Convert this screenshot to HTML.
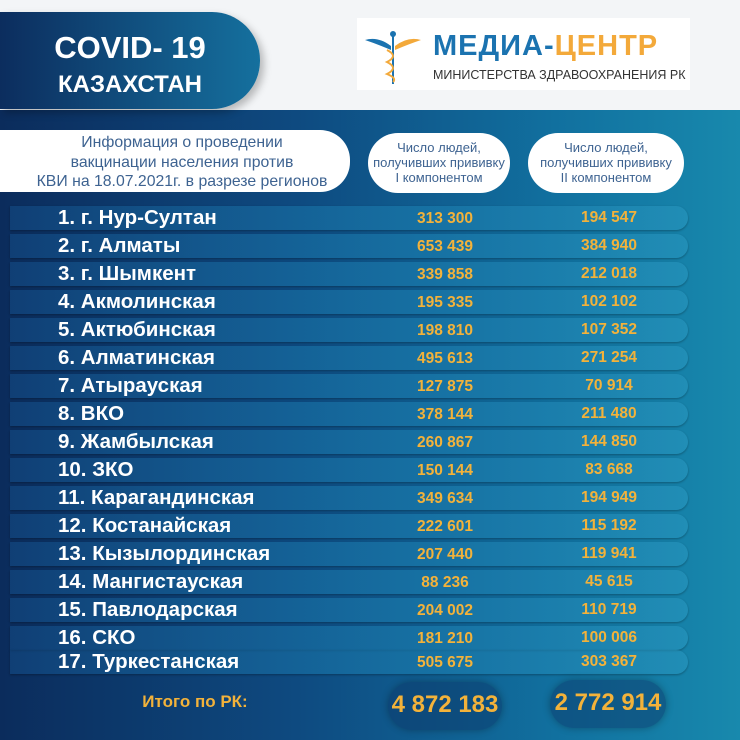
<!DOCTYPE html>
<html><head><meta charset="utf-8"><style>
*{margin:0;padding:0;box-sizing:border-box}
body{width:740px;height:740px;overflow:hidden;position:relative;font-family:"Liberation Sans",sans-serif;background:#f3f5f7}
.bg{position:absolute;left:0;top:110px;width:740px;height:630px;background:linear-gradient(90deg,#0b2c5c 0%,#0e4a80 40%,#11709f 75%,#1889ad 100%)}
.hdr{position:absolute;left:0;top:12px;width:260px;height:97px;border-radius:0 48px 48px 0;background:linear-gradient(90deg,#0c2d5e,#15709e);box-shadow:4px 4px 8px rgba(0,0,0,.25);color:#fff;text-align:center;font-weight:bold}
.hdr .a{position:absolute;left:0;width:260px;top:20px;font-size:31px;line-height:32px}
.hdr .b{position:absolute;left:0;width:260px;top:60px;font-size:24px;line-height:26px}
.logo{position:absolute;left:357px;top:18px;width:333px;height:72px;background:#fff}
.logo .m{position:absolute;left:76px;top:12px;font-weight:900;font-size:29px;letter-spacing:1px;color:#1b73b0}
.logo .m span{color:#f3a93a}
.logo .s{position:absolute;left:76px;top:50px;font-size:12.5px;color:#333}
.info{position:absolute;left:0;top:130px;width:350px;height:62px;background:#fff;border-radius:0 30px 30px 0;color:#3e6391;font-size:15.8px;text-align:center;line-height:19.5px;padding-top:3px;padding-left:14px}
.pill{position:absolute;top:133px;height:60px;background:#fff;border-radius:30px;color:#3e6391;font-size:13px;text-align:center;line-height:15px;padding-top:7px}
.row{position:absolute;left:10px;width:678px;height:24px;border-radius:0 14px 14px 0;background:linear-gradient(90deg,rgba(20,80,140,.5),rgba(25,120,170,.7) 60%,rgba(40,150,190,.6));box-shadow:0 1px 2px rgba(0,0,0,.3)}
.lab{position:absolute;left:58px;color:#fff;font-weight:bold;font-size:20.5px;line-height:24px}
.n{position:absolute;width:120px;text-align:center;color:#f3b23a;font-weight:bold;font-size:15.5px;line-height:24px}
.tot{position:absolute;top:682px;height:48px;border-radius:24px;background:rgba(10,50,100,.45);box-shadow:0 0 8px rgba(0,0,0,.3);color:#f3b23a;font-weight:bold;font-size:24px;text-align:center;line-height:46px}
</style></head><body>
<div class="bg"></div>
<div class="hdr"><div class="a">COVID- 19</div><div class="b">КАЗАХСТАН</div></div>
<div class="logo">
<svg style="position:absolute;left:6px;top:10px" width="60" height="58" viewBox="0 0 60 58"><path d="M2 12 Q15 8 28 18 L28 22 Q14 16 2 12Z" fill="#1b73b0"/><path d="M58 12 Q45 8 32 18 L32 22 Q46 16 58 12Z" fill="#f3a93a"/><rect x="29" y="6" width="2" height="50" fill="#1b73b0"/><circle cx="30" cy="6" r="3" fill="#1b73b0"/><path d="M24 22 Q36 28 24 34 Q36 40 24 46 Q34 50 30 54" stroke="#f3a93a" stroke-width="2" fill="none"/></svg>
<div class="m">МЕДИА-<span>ЦЕНТР</span></div>
<div class="s">МИНИСТЕРСТВА ЗДРАВООХРАНЕНИЯ РК</div>
</div>
<div class="info">Информация о проведении<br>вакцинации населения против<br>КВИ на 18.07.2021г. в разрезе регионов</div>
<div class="pill" style="left:368px;width:142px">Число людей,<br>получивших прививку<br>I компонентом</div>
<div class="pill" style="left:528px;width:156px">Число людей,<br>получивших прививку<br>II компонентом</div>

<div class="row" style="top:206px"></div><div class="lab" style="top:206px">1. г. Нур-Султан</div><div class="n" style="left:385px;top:207px">313 300</div><div class="n" style="left:549px;top:206px">194 547</div>
<div class="row" style="top:234px"></div><div class="lab" style="top:234px">2. г. Алматы</div><div class="n" style="left:385px;top:235px">653 439</div><div class="n" style="left:549px;top:234px">384 940</div>
<div class="row" style="top:262px"></div><div class="lab" style="top:262px">3. г. Шымкент</div><div class="n" style="left:385px;top:263px">339 858</div><div class="n" style="left:549px;top:262px">212 018</div>
<div class="row" style="top:290px"></div><div class="lab" style="top:290px">4. Акмолинская</div><div class="n" style="left:385px;top:291px">195 335</div><div class="n" style="left:549px;top:290px">102 102</div>
<div class="row" style="top:318px"></div><div class="lab" style="top:318px">5. Актюбинская</div><div class="n" style="left:385px;top:319px">198 810</div><div class="n" style="left:549px;top:318px">107 352</div>
<div class="row" style="top:346px"></div><div class="lab" style="top:346px">6. Алматинская</div><div class="n" style="left:385px;top:347px">495 613</div><div class="n" style="left:549px;top:346px">271 254</div>
<div class="row" style="top:374px"></div><div class="lab" style="top:374px">7. Атырауская</div><div class="n" style="left:385px;top:375px">127 875</div><div class="n" style="left:549px;top:374px">70 914</div>
<div class="row" style="top:402px"></div><div class="lab" style="top:402px">8. ВКО</div><div class="n" style="left:385px;top:403px">378 144</div><div class="n" style="left:549px;top:402px">211 480</div>
<div class="row" style="top:430px"></div><div class="lab" style="top:430px">9. Жамбылская</div><div class="n" style="left:385px;top:431px">260 867</div><div class="n" style="left:549px;top:430px">144 850</div>
<div class="row" style="top:458px"></div><div class="lab" style="top:458px">10. ЗКО</div><div class="n" style="left:385px;top:459px">150 144</div><div class="n" style="left:549px;top:458px">83 668</div>
<div class="row" style="top:486px"></div><div class="lab" style="top:486px">11. Карагандинская</div><div class="n" style="left:385px;top:487px">349 634</div><div class="n" style="left:549px;top:486px">194 949</div>
<div class="row" style="top:514px"></div><div class="lab" style="top:514px">12. Костанайская</div><div class="n" style="left:385px;top:515px">222 601</div><div class="n" style="left:549px;top:514px">115 192</div>
<div class="row" style="top:542px"></div><div class="lab" style="top:542px">13. Кызылординская</div><div class="n" style="left:385px;top:543px">207 440</div><div class="n" style="left:549px;top:542px">119 941</div>
<div class="row" style="top:570px"></div><div class="lab" style="top:570px">14. Мангистауская</div><div class="n" style="left:385px;top:571px">88 236</div><div class="n" style="left:549px;top:570px">45 615</div>
<div class="row" style="top:598px"></div><div class="lab" style="top:598px">15. Павлодарская</div><div class="n" style="left:385px;top:599px">204 002</div><div class="n" style="left:549px;top:598px">110 719</div>
<div class="row" style="top:626px"></div><div class="lab" style="top:626px">16. СКО</div><div class="n" style="left:385px;top:627px">181 210</div><div class="n" style="left:549px;top:626px">100 006</div>
<div class="row" style="top:650px"></div><div class="lab" style="top:650px">17. Туркестанская</div><div class="n" style="left:385px;top:651px">505 675</div><div class="n" style="left:549px;top:650px">303 367</div>

<div style="position:absolute;left:120px;top:692px;width:150px;text-align:center;color:#f3b23a;font-weight:bold;font-size:17px">Итого по РК:</div>
<div class="tot" style="left:388px;width:114px">4 872 183</div>
<div class="tot" style="left:550px;width:116px;top:680px">2 772 914</div>
</body></html>
